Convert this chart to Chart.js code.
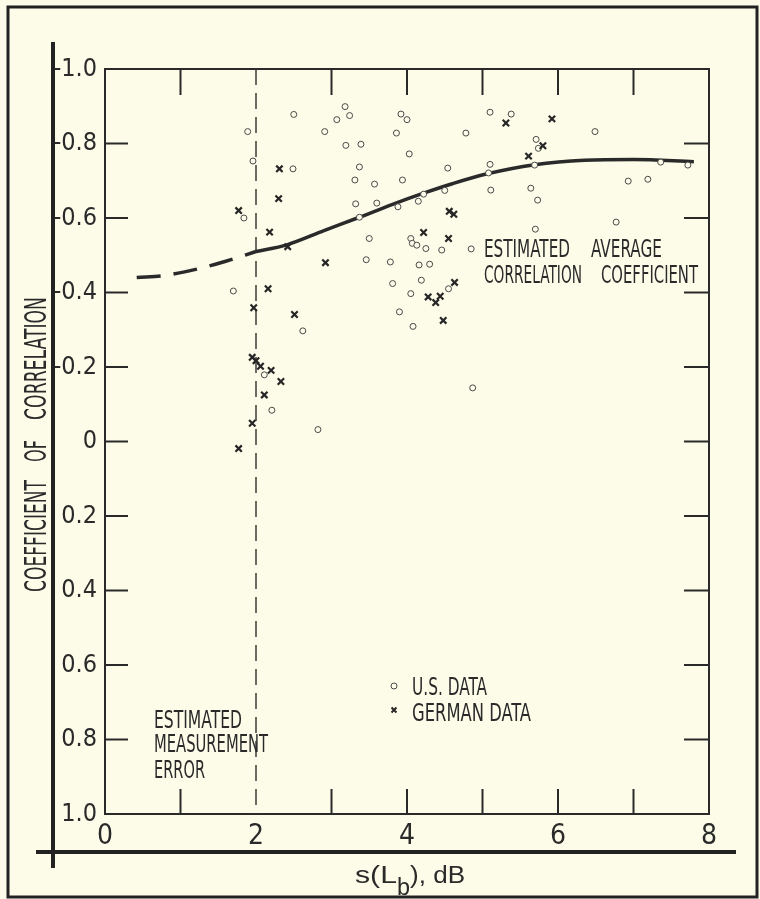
<!DOCTYPE html>
<html><head><meta charset="utf-8">
<script src="https://cdn.jsdelivr.net/npm/chart.js@4/dist/chart.umd.min.js"></script>
<style>html,body{margin:0;padding:0;background:#fdfce9;}</style>
</head><body>
<canvas id="c" width="760" height="899"></canvas>
<script>
// ---- data ----
const usX = [1.89,1.96,2.50,2.49,1.84,3.18,3.24,3.07,2.91,3.92,4.00,3.86,3.19,3.39,4.03,3.37,4.54,3.31,3.57,3.94,4.50,3.32,3.60,3.88,4.15,4.22,3.37,3.50,4.05,4.07,4.13,4.25,4.46,3.46,3.78,4.16,4.30,5.10,5.38,4.78,6.49,5.71,5.74,5.10,5.08,5.69,7.36,7.72,5.11,5.64,5.73,6.93,7.19,6.77,5.70,4.85,1.70,2.62,2.11,2.21,2.82,3.81,4.19,4.05,4.55,3.90,4.08,4.87];
const usY = [-0.832,-0.753,-0.878,-0.732,-0.600,-0.899,-0.875,-0.864,-0.832,-0.879,-0.864,-0.828,-0.795,-0.798,-0.772,-0.737,-0.734,-0.702,-0.691,-0.702,-0.674,-0.638,-0.640,-0.630,-0.645,-0.664,-0.602,-0.545,-0.545,-0.532,-0.527,-0.518,-0.514,-0.488,-0.482,-0.474,-0.476,-0.884,-0.879,-0.828,-0.832,-0.811,-0.787,-0.744,-0.721,-0.742,-0.750,-0.742,-0.675,-0.680,-0.648,-0.699,-0.704,-0.589,-0.570,-0.517,-0.404,-0.297,-0.179,-0.084,-0.032,-0.424,-0.433,-0.397,-0.410,-0.348,-0.309,-0.144];
const deX = [2.31,2.30,1.77,2.18,2.42,2.92,4.22,4.56,4.62,4.55,5.31,5.92,5.80,5.61,2.16,1.97,2.51,1.95,2.00,2.06,2.20,2.33,2.11,1.95,1.77,4.28,4.38,4.44,4.48,4.63];
const deY = [-0.732,-0.652,-0.620,-0.562,-0.523,-0.480,-0.561,-0.618,-0.610,-0.545,-0.855,-0.866,-0.794,-0.766,-0.410,-0.359,-0.341,-0.226,-0.217,-0.202,-0.191,-0.161,-0.125,-0.049,0.019,-0.388,-0.373,-0.390,-0.325,-0.427];
const avgDashX = [0.42,0.8,1.2,1.6,2.0];
const avgDashY = [-0.440,-0.446,-0.462,-0.484,-0.510];
const avgX = [2.0,2.41,2.9,3.37,3.8,4.21,4.6,5.05,5.69,6.35,7.0,7.8];
const avgY = [-0.510,-0.528,-0.566,-0.602,-0.636,-0.666,-0.692,-0.718,-0.743,-0.755,-0.757,-0.751];
const errX = [2,2];
const errY = [-1,1];
const xTickValues = [0,2,4,6,8];
const xTickLabels = ['0','2','4','6','8'];
const yTickValues = [-1,-0.8,-0.6,-0.4,-0.2,0,0.2,0.4,0.6,0.8,1];
const yTickLabels = ['-1.0','-0.8','-0.6','-0.4','-0.2','0','0.2','0.4','0.6','0.8','1.0'];
const xMarkValues = [1,3,4,5,6,7];
const yMarkValues = [-0.8,-0.6,-0.4,-0.2,0,0.2,0.4,0.6,0.8];
const seriesNames = ['U.S. DATA','GERMAN DATA'];
const avgText = ['ESTIMATED','AVERAGE','CORRELATION','COEFFICIENT'];
const errText = ['ESTIMATED','MEASUREMENT','ERROR'];
const yTitleWords = ['COEFFICIENT','OF','CORRELATION'];
const xTitleParts = ['s(L','b','), dB'];

// ---- style ----
const BG = '#fdfce9';
const INK = '#2a2a2a';
const NARROW = "'Liberation Sans Narrow','DejaVu Sans Condensed','Liberation Sans',sans-serif";
const PLAIN = "'Liberation Sans','DejaVu Sans',sans-serif";
const pts = (xs, ys) => xs.map((x, i) => ({x: x, y: ys[i]}));

function fitText(ctx, text, x, base, width, size, family) {
  ctx.save();
  ctx.font = size + 'px ' + family;
  const w = ctx.measureText(text).width;
  ctx.translate(x, base);
  ctx.scale(width / w, 1);
  ctx.textAlign = 'left';
  ctx.textBaseline = 'alphabetic';
  ctx.fillText(text, 0, 0);
  ctx.restore();
}

const decor = {
  id: 'decor',
  beforeDraw(chart) {
    const ctx = chart.ctx;
    ctx.save();
    ctx.fillStyle = BG;
    ctx.fillRect(0, 0, chart.width, chart.height);
    ctx.restore();
  },
  beforeDatasetsDraw(chart) {
    const ctx = chart.ctx, a = chart.chartArea;
    const xs = chart.scales.x, ys = chart.scales.y;
    ctx.save();
    ctx.strokeStyle = INK;
    ctx.lineWidth = 2;
    ctx.strokeRect(a.left, a.top, a.right - a.left, a.bottom - a.top);
    ctx.beginPath();
    xMarkValues.forEach(v => {
      const p = xs.getPixelForValue(v);
      ctx.moveTo(p, a.top); ctx.lineTo(p, a.top + 26);
      ctx.moveTo(p, a.bottom); ctx.lineTo(p, a.bottom - 25);
    });
    yMarkValues.forEach(v => {
      const p = ys.getPixelForValue(v);
      ctx.moveTo(a.left, p); ctx.lineTo(a.left + 23, p);
      ctx.moveTo(a.right, p); ctx.lineTo(a.right - 25, p);
    });
    ctx.stroke();
    ctx.restore();
  },
  afterDraw(chart) {
    const ctx = chart.ctx;
    ctx.save();
    // outer frame
    ctx.strokeStyle = '#222';
    ctx.lineWidth = 3;
    ctx.strokeRect(8, 7, 749, 890);
    // heavy figure axes
    ctx.lineWidth = 4;
    ctx.beginPath();
    ctx.moveTo(53, 42); ctx.lineTo(53, 868);
    ctx.moveTo(36, 852); ctx.lineTo(736, 852);
    ctx.stroke();
    ctx.fillStyle = INK;
    // annotation: estimated average correlation coefficient
    fitText(ctx, avgText[0], 484, 257, 86, 24, NARROW);
    fitText(ctx, avgText[1], 591, 257, 71, 24, NARROW);
    fitText(ctx, avgText[2], 484, 283, 98, 24, NARROW);
    fitText(ctx, avgText[3], 601, 283, 97, 24, NARROW);
    // annotation: estimated measurement error
    fitText(ctx, errText[0], 154, 728, 88, 24, NARROW);
    fitText(ctx, errText[1], 154, 752, 114, 24, NARROW);
    fitText(ctx, errText[2], 154, 778, 51, 24, NARROW);
    // legend
    const ds = chart.data.datasets;
    ctx.strokeStyle = ds[0].pointBorderColor;
    ctx.fillStyle = BG;
    ctx.lineWidth = 1;
    Chart.helpers.drawPoint(ctx, {pointStyle: 'circle', radius: 3, borderWidth: 1, rotation: 0}, 394, 686);
    ctx.strokeStyle = ds[1].pointBorderColor;
    ctx.lineWidth = 2;
    Chart.helpers.drawPoint(ctx, {pointStyle: 'crossRot', radius: 3.5, borderWidth: 2, rotation: 0}, 394, 710);
    ctx.fillStyle = INK;
    fitText(ctx, seriesNames[0], 412, 695, 75, 24, NARROW);
    fitText(ctx, seriesNames[1], 412, 721, 119, 24, NARROW);
    // x title with subscript
    fitText(ctx, xTitleParts[0], 355, 883, 42, 23, PLAIN);
    fitText(ctx, xTitleParts[1], 397, 895, 13, 23, PLAIN);
    fitText(ctx, xTitleParts[2], 410, 883, 55, 23, PLAIN);
    // y title rotated
    ctx.save();
    ctx.translate(46, 592);
    ctx.rotate(-Math.PI / 2);
    fitText(ctx, yTitleWords[0], 0, 0, 112, 30, NARROW);
    fitText(ctx, yTitleWords[1], 130, 0, 22, 30, NARROW);
    fitText(ctx, yTitleWords[2], 172, 0, 123, 30, NARROW);
    ctx.restore();
    ctx.restore();
  }
};

new Chart(document.getElementById('c').getContext('2d'), {
  type: 'scatter',
  data: {
    datasets: [
      {label: seriesNames[0], data: pts(usX, usY), pointStyle: 'circle', pointRadius: 3,
       pointBorderWidth: 1, pointBorderColor: '#4a4a4a', pointBackgroundColor: BG, order: 1},
      {label: seriesNames[1], data: pts(deX, deY), pointStyle: 'crossRot', pointRadius: 4.5,
       pointBorderWidth: 2.2, pointBorderColor: '#262626', pointBackgroundColor: '#262626', order: 0},
      {label: 'Estimated average (extrapolated)', data: pts(avgDashX, avgDashY), showLine: true,
       borderColor: INK, borderWidth: 3.5, borderDash: [24, 13], pointRadius: 0,
       cubicInterpolationMode: 'monotone', order: 3},
      {label: 'Estimated average correlation coefficient', data: pts(avgX, avgY), showLine: true,
       borderColor: INK, borderWidth: 3.5, pointRadius: 0, cubicInterpolationMode: 'monotone', order: 3},
      {label: 'Estimated measurement error', data: pts(errX, errY), showLine: true,
       borderColor: '#3a3a3a', borderWidth: 1.5, borderDash: [16, 8], pointRadius: 0, order: 4}
    ]
  },
  options: {
    responsive: false,
    animation: false,
    events: [],
    layout: {padding: {left: 0, right: 51, top: 69, bottom: 0}},
    plugins: {legend: {display: false}, tooltip: {enabled: false}},
    scales: {
      x: {
        type: 'linear', min: 0, max: 8,
        grid: {display: false, drawTicks: false},
        border: {display: false},
        afterBuildTicks: s => { s.ticks = xTickValues.map(v => ({value: v})); },
        afterFit: s => { s.height = 85; },
        ticks: {padding: 6, color: INK, font: {family: NARROW, size: 28},
                callback: (v, i) => xTickLabels[i]}
      },
      y: {
        type: 'linear', min: -1, max: 1, reverse: true,
        grid: {display: false, drawTicks: false},
        border: {display: false},
        afterBuildTicks: s => { s.ticks = yTickValues.map(v => ({value: v})); },
        afterFit: s => { s.width = 105; },
        ticks: {padding: 8, color: INK, font: {family: NARROW, size: 25},
                callback: (v, i) => yTickLabels[i]}
      }
    }
  },
  plugins: [decor]
});
</script>
</body></html>
